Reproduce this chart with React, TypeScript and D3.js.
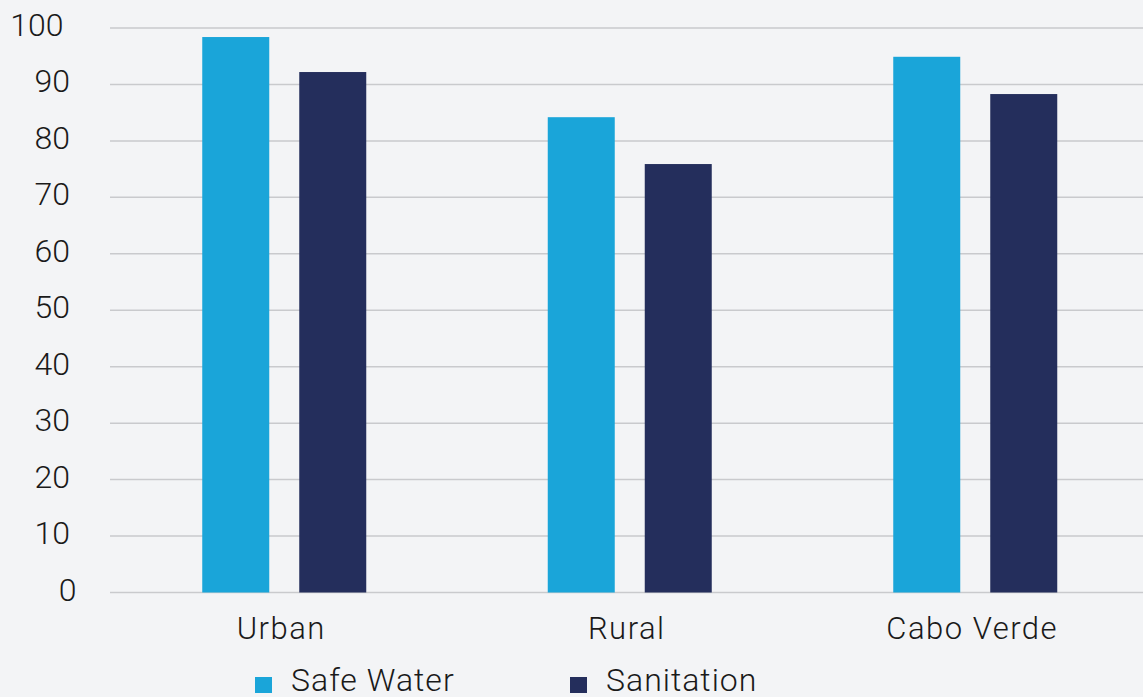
import * as d3 from "d3";
import React from "react";

const categories = ["Urban", "Rural", "Cabo Verde"];
const seriesNames = ["Safe Water", "Sanitation"];
const safeWater = [98.4, 84.2, 94.9];
const sanitation = [92.2, 75.9, 88.3];
const yTicks = [0, 10, 20, 30, 40, 50, 60, 70, 80, 90, 100];
const colors = ["#1aa5d9", "#242e5c"];

export default function App() {
  const svgWidth = 1143;
  const svgHeight = 697;
  const font = "Roboto, 'Open Sans', sans-serif";

  const x = d3.scaleBand<string>().domain(categories).range([111.5, 1148]);
  const barW = 67;
  const gap = 30;
  const y = d3.scaleLinear().domain([0, 100]).range([592.5, 28]);

  const series = [safeWater, sanitation];

  return (
    <div style={{ position: "fixed", left: 0, top: 0 }}>
      <svg width={svgWidth} height={svgHeight} style={{ display: "block", background: "#f3f4f6" }}>
        <rect x={0} y={0} width={svgWidth} height={svgHeight} fill="#f3f4f6" />
        {yTicks.map((t) => (
          <g key={t}>
            <line x1={110} x2={svgWidth} y1={y(t)} y2={y(t)} stroke="#c9cacd" strokeWidth={1.5} />
            <text
              x={83 - 6.5 * String(t).length}
              y={y(t) - 3}
              textAnchor="end"
              dominantBaseline="central"
              fontFamily={font}
              fontWeight={300}
              fontSize={32}
              fill="#1a1a1a"
            >
              {t}
            </text>
          </g>
        ))}
        {categories.map((c, i) => {
          const cx = (x(c) as number) + x.bandwidth() / 2;
          return (
            <g key={c}>
              {series.map((vals, s) => {
                const bx = s === 0 ? cx - gap / 2 - barW : cx + gap / 2;
                return (
                  <rect
                    key={s}
                    x={bx}
                    y={y(vals[i])}
                    width={barW}
                    height={y(0) - y(vals[i])}
                    fill={colors[s]}
                  />
                );
              })}
              <text
                x={cx - 3}
                y={639}
                textAnchor="middle"
                fontFamily={font}
                fontWeight={300}
                fontSize={31}
                letterSpacing={1.5}
                fill="#1a1a1a"
              >
                {c}
              </text>
            </g>
          );
        })}
        {seriesNames.map((n, s) => {
          const lx = 255 + s * 315;
          return (
            <g key={n}>
              <rect x={lx} y={677} width={17} height={16} fill={colors[s]} />
              <text
                x={lx + 36}
                y={691}
                fontFamily={font}
                fontWeight={300}
                fontSize={32}
                letterSpacing={1}
                fill="#1a1a1a"
              >
                {n}
              </text>
            </g>
          );
        })}
      </svg>
    </div>
  );
}
